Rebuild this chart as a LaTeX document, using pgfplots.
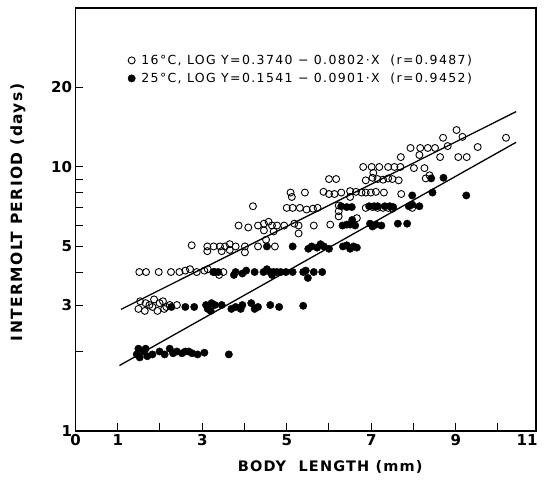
\documentclass[border=0pt]{standalone}
\usepackage{fontspec}
\setmainfont{DejaVu Sans}
\usepackage{pgfplots}
\pgfplotsset{compat=1.18}

\pgfplotstableread{
x y
1.49 2.9
1.53 3.1
1.64 2.85
1.66 3.05
1.75 3.0
1.82 2.95
1.86 3.15
1.94 2.85
1.99 3.05
2.07 3.1
2.10 2.9
2.15 2.95
2.23 3.0
2.40 3.0
1.51 4
1.67 4
1.97 4
2.26 4
2.46 4
2.60 4.05
2.71 4.1
2.87 4
3.05 4.05
3.13 4.1
3.30 4
3.40 3.9
3.50 4
2.75 5.05
3.12 5
3.27 5
3.42 5
3.54 5
3.65 5.1
3.79 5
4.01 5
4.32 5
4.72 5
3.12 4.8
3.46 4.8
3.65 4.85
4.01 4.75
3.86 6
4.09 5.9
4.32 6
4.46 6.1
4.57 6.2
4.65 6
4.77 6
4.94 6
5.18 6.1
5.28 6
5.64 6
6.03 6.05
4.46 5.75
4.69 5.7
5.28 5.6
4.51 5.3
4.20 7.1
5.00 7
5.14 7
5.31 7
5.47 6.9
5.62 6.95
5.73 7
6.23 6.8
6.23 7.15
6.87 7
7.03 7.05
7.15 7
7.28 7
7.40 7
7.50 6.95
7.97 7
5.09 8
5.43 8
5.87 8.05
6.00 7.9
6.13 7.9
6.29 8
6.50 8.1
6.64 8.05
6.77 8
6.87 8
6.99 8
7.11 8.05
7.30 8
7.71 7.9
5.12 7.7
6.50 7.7
6.23 6.5
6.66 6.4
6.00 9
6.17 9
6.87 8.9
7.03 9.1
7.15 9
7.28 8.95
7.40 9.05
7.50 9
7.65 8.9
8.29 9.05
8.38 9.3
6.81 10
7.01 10
7.19 10
7.40 10
7.55 10
7.69 10
8.01 9.9
8.26 9.9
7.05 9.5
7.70 10.9
8.14 11.1
8.63 10.9
9.06 10.9
9.26 10.9
7.93 11.8
8.16 11.8
8.34 11.8
8.51 11.8
8.81 12.0
9.52 11.9
8.70 12.9
9.16 13.0
10.19 12.9
9.02 13.8
}\tabA

\pgfplotstableread{
x y
1.45 1.95
1.49 2.05
1.52 1.9
1.62 2.0
1.66 2.05
1.70 1.92
1.82 1.95
1.99 2.0
2.11 1.95
2.23 2.05
2.31 1.97
2.40 2.0
2.52 1.97
2.60 2.0
2.68 2.0
2.76 1.97
2.89 1.95
3.05 1.98
3.63 1.95
2.27 2.95
2.60 2.95
2.81 2.95
3.09 3.0
3.13 2.9
3.20 2.85
3.22 3.05
3.30 3.0
3.46 3.0
3.69 2.9
3.79 2.95
3.91 2.9
3.95 3.0
4.16 3.05
4.24 2.9
4.32 2.95
4.61 3.0
4.82 2.95
5.39 2.98
3.26 4.0
3.38 4.0
3.75 3.9
3.79 4.0
3.95 3.95
4.04 4.05
4.24 4.0
4.45 4.0
4.53 4.1
4.61 4.0
4.65 3.9
4.69 4.0
4.77 4.0
4.86 4.0
4.98 4.0
5.14 4.0
5.39 4.0
5.45 4.05
5.50 3.8
5.64 4.0
5.84 4.0
4.53 5.0
5.14 5.0
5.51 4.9
5.59 5.0
5.72 4.95
5.80 5.1
5.88 5.0
6.00 4.9
6.33 5.0
6.42 5.05
6.50 4.9
6.58 5.0
6.66 4.95
6.32 6.0
6.42 6.05
6.50 6.05
6.62 6.0
6.55 6.3
6.97 6.1
7.03 5.95
7.11 6.05
7.24 6.0
7.63 6.1
7.85 6.1
6.29 7.1
6.42 7.05
6.54 7.05
6.95 7.1
7.07 7.1
7.15 7.1
7.32 7.1
7.44 7.1
7.52 7.05
7.89 7.1
7.97 7.2
8.14 7.1
7.97 7.8
8.45 8.0
9.25 7.8
8.42 9.05
8.71 9.1
}\tabB

\begin{document}
\begin{tikzpicture}
\begin{axis}[
  scale only axis,
  width=460.5pt, height=423pt,
  xmin=0, xmax=10.9,
  ymode=log, ymin=1, ymax=40,
  axis line style={line width=1.3pt},
  tick pos=left, tick align=inside,
  major tick length=8pt,
  tick style={line width=1pt, black},
  xtick={0,1,2,3,4,5,6,7,8,9,10},
  xticklabels={0,1,,3,,5,,7,,9,},
  extra x ticks={10.9},
  extra x tick labels={11},
  extra x tick style={major tick length=0pt, xticklabel style={anchor=north east, xshift=5pt}},
  ytick={1,2,3,4,5,6,7,8,9,10,20},
  yticklabels={1,,3,,5,,,,,10,20},
  yminorticks=false, xminorticks=false,
  ticklabel style={font=\fontsize{15}{15}\selectfont\bfseries},
  xlabel={BODY\ \ LENGTH (mm)},
  ylabel={INTERMOLT PERIOD (days)},
  xlabel style={at={(axis description cs:0.553,-0.084)}, anchor=center,
    font=\fontsize{14.5}{14.5}\selectfont\bfseries\addfontfeatures{LetterSpace=8}},
  ylabel style={at={(axis description cs:-0.125,0.5166)}, anchor=center,
    font=\fontsize{15.5}{15.5}\selectfont\bfseries\addfontfeatures{LetterSpace=9}},
  legend style={draw=none, fill=none, at={(rel axis cs:0.107,0.899)},
    anchor=north west, font=\fontsize{12.5}{13}\selectfont\addfontfeatures{LetterSpace=11},
    row sep=3pt, /tikz/every odd column/.append style={column sep=4pt}},
  legend cell align=left,
]
\addplot[only marks, mark=o, mark size=3.5pt, mark options={line width=0.9pt, black}] table {\tabA};
\addlegendentry{16°C, LOG Y=0.3740 − 0.0802·X\ \ (r=0.9487)}
\addplot[only marks, mark=*, mark size=3.7pt, mark options={black, fill=black}] table {\tabB};
\addlegendentry{25°C, LOG Y=0.1541 − 0.0901·X\ \ (r=0.9452)}
\addplot[black, line width=1.3pt, forget plot] coordinates {(1.08,2.89) (10.43,16.2)};
\addplot[black, line width=1.3pt, forget plot] coordinates {(1.04,1.77) (10.43,12.4)};
\end{axis}
\coordinate (bl) at ([shift={(-75.5pt,-54pt)}]current axis.south west);
\coordinate (tr) at ([shift={(8pt,8pt)}]current axis.north east);
\pgfresetboundingbox
\path[use as bounding box] (bl) rectangle (tr);
\end{tikzpicture}
\end{document}
